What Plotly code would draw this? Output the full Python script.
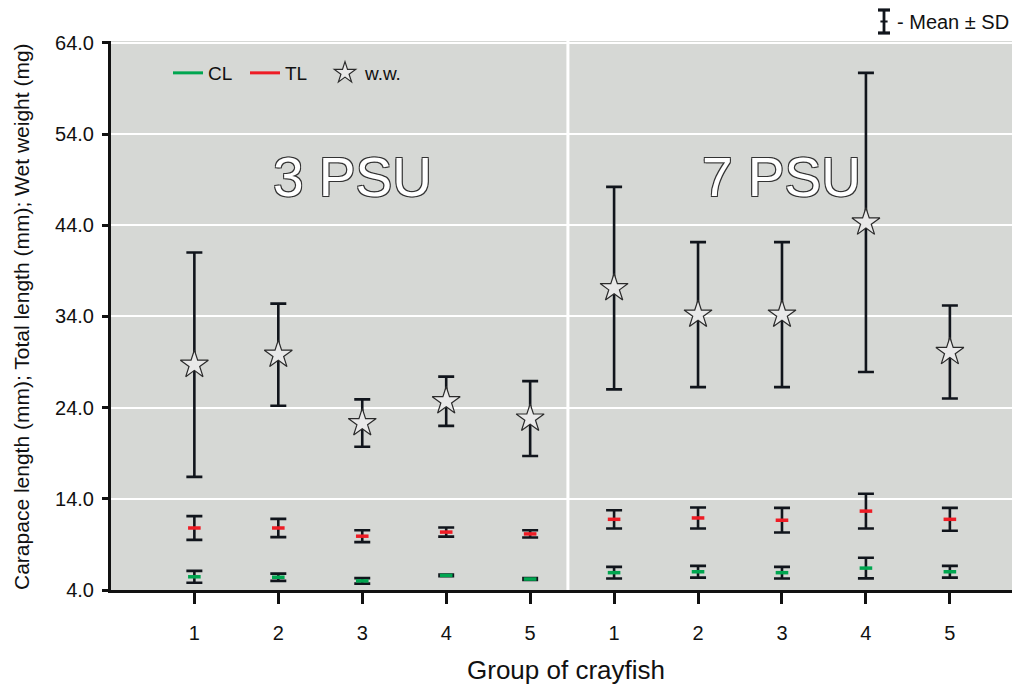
import plotly.graph_objects as go

# ---- data ----
groups = ["1", "2", "3", "4", "5", "1", "2", "3", "4", "5"]
positions = list(range(10))
salinity_labels = ["3 PSU", "7 PSU"]

cl_mean = [5.45, 5.4, 5.0, 5.6, 5.2, 5.9, 6.0, 5.9, 6.4, 6.0]
cl_sd = [0.65, 0.4, 0.3, 0.1, 0.1, 0.64, 0.64, 0.64, 1.13, 0.64]

tl_mean = [10.8, 10.8, 9.9, 10.35, 10.15, 11.75, 11.9, 11.65, 12.65, 11.75]
tl_sd = [1.3, 1.0, 0.65, 0.5, 0.4, 1.0, 1.15, 1.35, 1.9, 1.25]

ww_mean = [28.7, 29.8, 22.3, 24.7, 22.8, 37.1, 34.2, 34.2, 44.3, 30.1]
ww_sd = [12.3, 5.6, 2.6, 2.7, 4.1, 11.1, 7.95, 7.95, 16.4, 5.1]

y_ticks = [4.0, 14.0, 24.0, 34.0, 44.0, 54.0, 64.0]

FONT = "Liberation Sans, Arial, Helvetica, sans-serif"
BAR = "#11151c"
GREEN = "#00a650"
RED = "#ee1c25"

L, R, T, B = 111, 2, 41, 99
W, H = 1014, 689
PW, PH = W - L - R, H - T - B

def px_x(p):
    return (p - L) / PW

def px_y(p):
    return (H - B - p) / PH

fig = go.Figure()

def err(sd):
    return dict(type="data", array=sd, visible=True, color=BAR, thickness=2.6, width=8)

fig.add_trace(go.Scatter(
    x=positions, y=cl_mean, mode="markers", name="CL", showlegend=False, legendgroup="cl",
    error_y=err(cl_sd),
    marker=dict(symbol="line-ew", size=9, color=GREEN, line=dict(color=GREEN, width=3.5)),
))
fig.add_trace(go.Scatter(
    x=positions, y=tl_mean, mode="markers", name="TL", showlegend=False, legendgroup="tl",
    error_y=err(tl_sd),
    marker=dict(symbol="line-ew", size=9, color=RED, line=dict(color=RED, width=3.5)),
))
fig.add_trace(go.Scatter(
    x=positions, y=ww_mean, mode="markers", name="w.w.", showlegend=False, legendgroup="ww",
    error_y=err(ww_sd),
    marker=dict(symbol="star", size=21, color="#e9e9e9", line=dict(color="#2a2a2a", width=1.2)),
))

# legend entries (one legend box per entry for precise placement)
fig.add_trace(go.Scatter(x=[None], y=[None], mode="lines", name="CL", legendgroup="cl",
                         line=dict(color=GREEN, width=3), legend="legend"))
fig.add_trace(go.Scatter(x=[None], y=[None], mode="lines", name="TL", legendgroup="tl",
                         line=dict(color=RED, width=3), legend="legend2"))
fig.add_trace(go.Scatter(x=[None], y=[None], mode="markers", name="w.w.", legendgroup="ww",
                         marker=dict(symbol="star", size=22, color="#e9e9e9",
                                     line=dict(color="#2a2a2a", width=1.2)), legend="legend3"))

def leg(xpix):
    return dict(x=px_x(xpix), y=px_y(73), xanchor="left", yanchor="middle",
                bgcolor="rgba(0,0,0,0)", borderwidth=0,
                font=dict(family=FONT, size=19, color="#111"))

# divider between salinity groups
fig.add_shape(type="line", xref="x", yref="paper", x0=4.45, x1=4.45, y0=0, y1=1,
              line=dict(color="white", width=3), layer="below")

# salinity labels
outline = "1px 1px 0 #333, -1px -1px 0 #333, 1px -1px 0 #333, -1px 1px 0 #333"
for xc, lab in zip([1.88, 7.0], salinity_labels):
    fig.add_annotation(x=xc, y=49.3, xref="x", yref="y", text=lab, showarrow=False,
                       font=dict(family=FONT, size=55, color="white", shadow=outline))

# Mean ± SD key (top right)
kx = px_x(884)
dx = 6 / PW
for (a, b, c, d, w) in [(kx, kx, 10, 33, 2.8), (kx - dx, kx + dx, 10, 10, 3.2),
                        (kx - dx, kx + dx, 33, 33, 3.2),
                        (kx - dx * 0.6, kx + dx * 0.6, 21.5, 21.5, 2)]:
    fig.add_shape(type="line", xref="paper", yref="paper", x0=a, x1=b,
                  y0=px_y(c), y1=px_y(d), line=dict(color=BAR, width=w))
fig.add_annotation(xref="paper", yref="paper", x=px_x(895), y=px_y(21.5), xanchor="left",
                   yanchor="middle", text="- Mean ± SD", showarrow=False,
                   font=dict(family=FONT, size=20, color="#111"))

# axis titles
fig.add_annotation(xref="paper", yref="paper", x=px_x(566), y=px_y(670), xanchor="center",
                   yanchor="middle", text="Group of crayfish", showarrow=False,
                   font=dict(family=FONT, size=26, color="#111"))
fig.add_annotation(xref="paper", yref="paper", x=px_x(21), y=px_y(317), xanchor="center",
                   yanchor="middle", textangle=-90, showarrow=False,
                   text="Carapace length (mm); Total length (mm); Wet weight (mg)",
                   font=dict(family=FONT, size=21, color="#111"))

fig.update_layout(
    width=W, height=H,
    margin=dict(l=L, r=R, t=T, b=B, autoexpand=False),
    paper_bgcolor="white",
    plot_bgcolor="#d6d8d5",
    font=dict(family=FONT, color="#111"),
    showlegend=True,
    hovermode=False,
    legend=leg(168), legend2=leg(245), legend3=leg(325),
    xaxis=dict(
        range=[-0.993, 9.74], tickmode="array", tickvals=positions, ticktext=groups,
        showgrid=False, zeroline=False, showline=True, linecolor="#111", linewidth=3,
        ticks="outside", ticklen=11, tickwidth=2.5, tickcolor="#111", automargin=False,
        tickfont=dict(family=FONT, size=20, color="#111"), ticklabelstandoff=12,
    ),
    yaxis=dict(
        range=[4.0, 64.2], tickmode="array", tickvals=y_ticks,
        ticktext=[f"{v:.1f}" for v in y_ticks], automargin=False,
        showgrid=True, gridcolor="white", gridwidth=1.5, zeroline=False,
        showline=True, linecolor="#111", linewidth=3,
        ticks="outside", ticklen=6, tickwidth=2.5, tickcolor="#111",
        tickfont=dict(family=FONT, size=20, color="#111"), ticklabelstandoff=4,
    ),
)

fig.write_html("out.html", config={"displayModeBar": False},
               post_script="document.body.style.margin='0';document.body.style.overflow='hidden';")
